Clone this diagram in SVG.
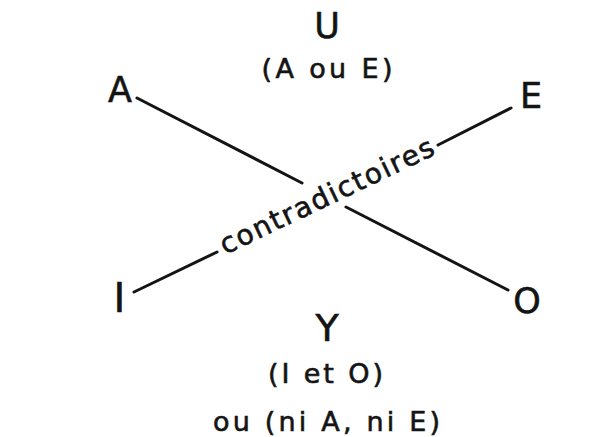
<svg xmlns="http://www.w3.org/2000/svg" width="605" height="437" viewBox="0 0 605 437">
<style>
.bg{fill:#ffffff}
.lbl{font-family:"DejaVu Sans","Liberation Sans",sans-serif;fill:#141414;stroke:#141414;stroke-width:0.6}
.big{font-size:35px}
.small{font-size:27px}
.edge{stroke:#141414;stroke-width:3;stroke-linecap:round;fill:none}
</style>
<rect class="bg" x="0" y="0" width="605" height="437"/>
<g id="connectors">
<line class="edge" x1="137" y1="98" x2="302" y2="183"/>
<line class="edge" x1="346" y1="207" x2="508" y2="290"/>
<line class="edge" x1="134" y1="292" x2="217" y2="252"/>
<line class="edge" x1="438" y1="145" x2="511" y2="108"/>
<text class="lbl" font-size="28" transform="translate(222,248) rotate(-25.5)" x="0" y="7.5" textLength="234" lengthAdjust="spacing">contradictoires</text>
</g>
<g id="node-U">
<text class="lbl big" x="327" y="38" text-anchor="middle">U</text>
<text class="lbl small" x="327" y="78" text-anchor="middle" textLength="131" lengthAdjust="spacing">(A ou E)</text>
</g>
<g id="node-A">
<text class="lbl big" x="120" y="102" text-anchor="middle">A</text>
</g>
<g id="node-E">
<text class="lbl big" x="531" y="108" text-anchor="middle">E</text>
</g>
<g id="node-I">
<text class="lbl" font-size="40" x="119.5" y="312" text-anchor="middle">I</text>
</g>
<g id="node-O">
<text class="lbl big" x="527" y="313" text-anchor="middle">O</text>
</g>
<g id="node-Y">
<text class="lbl" font-size="38" x="327" y="341" text-anchor="middle">Y</text>
<text class="lbl small" x="325.5" y="383" text-anchor="middle" textLength="115" lengthAdjust="spacing">(I et O)</text>
<text class="lbl small" x="326.5" y="431" text-anchor="middle" textLength="227" lengthAdjust="spacing">ou (ni A, ni E)</text>
</g>
</svg>
